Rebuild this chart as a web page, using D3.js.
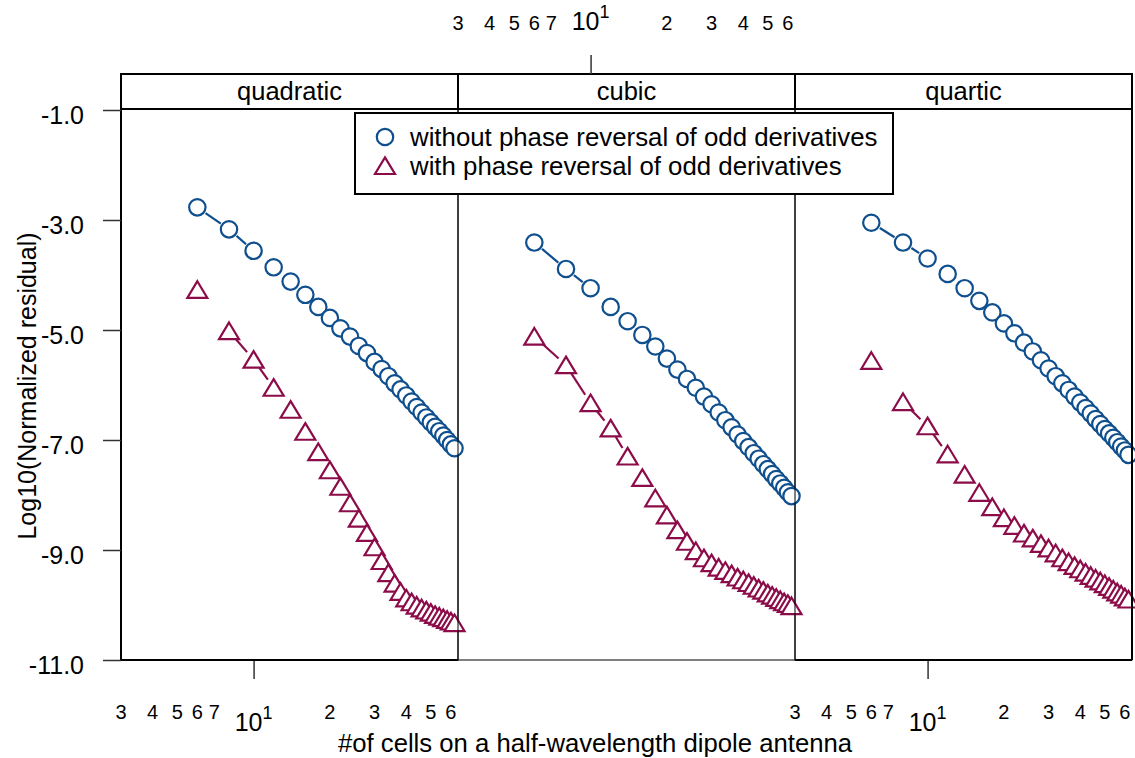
<!DOCTYPE html>
<html>
<head>
<meta charset="utf-8">
<script src="https://cdn.jsdelivr.net/npm/d3@7"></script>
<style>
  body { margin: 0; background: #fff; }
  text { font-family: "Liberation Sans", Arial, sans-serif; fill: #000; }
</style>
</head>
<body>
<svg width="1135" height="758"></svg>
<script>
// number of cells (x values shared by every panel)
const cells = [6, 8, 10, 12, 14, 16, 18, 20, 22, 24, 26, 28, 30, 32, 34, 36, 38, 40, 42, 44, 46, 48, 50, 52, 54, 56, 58, 60, 62];

const panelNames = ["quadratic", "cubic", "quartic"];

// log10 of normalized residual, without phase reversal
const quadraticWithout = [-2.77, -3.17, -3.56, -3.86, -4.12, -4.36, -4.58, -4.78, -4.97, -5.12, -5.29, -5.42, -5.58, -5.71, -5.84, -5.97, -6.08, -6.19, -6.30, -6.40, -6.50, -6.59, -6.68, -6.76, -6.84, -6.92, -7.00, -7.08, -7.15];
const cubicWithout = [-3.41, -3.89, -4.24, -4.58, -4.84, -5.09, -5.30, -5.52, -5.72, -5.89, -6.05, -6.21, -6.35, -6.50, -6.64, -6.77, -6.90, -7.02, -7.13, -7.24, -7.34, -7.44, -7.53, -7.62, -7.71, -7.79, -7.87, -7.95, -8.02];
const quarticWithout = [-3.05, -3.41, -3.70, -3.98, -4.24, -4.47, -4.68, -4.88, -5.06, -5.23, -5.39, -5.55, -5.70, -5.84, -5.97, -6.09, -6.21, -6.32, -6.42, -6.52, -6.62, -6.71, -6.80, -6.88, -6.96, -7.04, -7.12, -7.19, -7.27];

// with phase reversal of odd derivatives
const quadraticWith = [-4.27, -5.02, -5.54, -6.05, -6.45, -6.85, -7.22, -7.55, -7.85, -8.15, -8.43, -8.69, -8.95, -9.20, -9.42, -9.61, -9.76, -9.88, -9.95, -10.01, -10.06, -10.10, -10.14, -10.18, -10.21, -10.24, -10.27, -10.30, -10.33];
const cubicWith = [-5.12, -5.64, -6.33, -6.79, -7.30, -7.69, -8.06, -8.37, -8.64, -8.85, -9.02, -9.15, -9.24, -9.32, -9.38, -9.44, -9.50, -9.55, -9.60, -9.65, -9.70, -9.74, -9.79, -9.83, -9.87, -9.91, -9.95, -9.98, -10.02];
const quarticWith = [-5.56, -6.31, -6.75, -7.26, -7.63, -7.96, -8.22, -8.42, -8.56, -8.70, -8.79, -8.89, -8.97, -9.06, -9.15, -9.22, -9.29, -9.35, -9.41, -9.47, -9.52, -9.57, -9.62, -9.67, -9.72, -9.77, -9.81, -9.86, -9.90];

const withoutSeries = [quadraticWithout, cubicWithout, quarticWithout];
const withSeries = [quadraticWith, cubicWith, quarticWith];

const yTicks = [-1, -3, -5, -7, -9, -11];
const minorTicks = [3, 4, 5, 6, 7, 20, 30, 40, 50, 60];
const minorLabels = ["3", "4", "5", "6", "7", "2", "3", "4", "5", "6"];
const legendLabels = ["without phase reversal of odd derivatives", "with phase reversal of odd derivatives"];

const blue = "#0f4f8e";
const red = "#8b0c49";

const svg = d3.select("svg");

const left = 121;
const panelWidth = 337;
const panelTop = 109;
const panelBottom = 660;
const stripTop = 74;

const yScale = d3.scaleLinear().domain([-11, -1]).range([660, 110]);

const circleR = 8.2;
const trianglePath = "M0,-8.6L10,8L-10,8Z";
const gap = 10;

const drawSeries = (g, xScale, values, color, shape) => {
  const pts = cells.map((c, i) => [xScale(c), yScale(values[i])]);
  // broken "b"-style line: only the mid-length gaps between marks show a dash
  const segs = d3.pairs(pts).filter(([a, b]) => {
    const d = Math.hypot(b[0] - a[0], b[1] - a[1]);
    return d > 28 && d < 48;
  });
  const trim = ([a, b], t) => {
    const d = Math.hypot(b[0] - a[0], b[1] - a[1]);
    return [a[0] + (b[0] - a[0]) * t / d, a[1] + (b[1] - a[1]) * t / d];
  };
  g.append("g")
    .selectAll("line")
    .data(segs)
    .join("line")
    .attr("x1", (s) => trim(s, gap)[0])
    .attr("y1", (s) => trim(s, gap)[1])
    .attr("x2", (s) => trim([s[1], s[0]], gap)[0])
    .attr("y2", (s) => trim([s[1], s[0]], gap)[1])
    .attr("stroke", color)
    .attr("stroke-width", 2.2);

  const marks = g.append("g");
  pts.forEach((p) => {
    if (shape === "circle") {
      marks.append("circle")
        .attr("cx", p[0]).attr("cy", p[1]).attr("r", circleR)
        .attr("fill", "#fff").attr("stroke", color).attr("stroke-width", 2.2);
    } else {
      marks.append("path")
        .attr("d", trianglePath)
        .attr("transform", `translate(${p[0]},${p[1]})`)
        .attr("fill", "#fff").attr("stroke", color).attr("stroke-width", 2.2);
    }
  });
};

// log axis labels: minor digits plus 10^1
const drawXLabels = (g, xScale, side) => {
  const base = side === "bottom" ? 719 : 30;
  g.selectAll(null)
    .data(minorTicks)
    .join("text")
    .attr("x", (d) => xScale(d))
    .attr("y", base)
    .attr("text-anchor", "middle")
    .attr("font-size", 20)
    .text((d, i) => minorLabels[i]);

  const major = g.append("text")
    .attr("x", xScale(10))
    .attr("y", side === "bottom" ? 731 : 30)
    .attr("text-anchor", "middle")
    .attr("font-size", 25);
  major.append("tspan").text("10");
  major.append("tspan").attr("font-size", 18).attr("dy", -12).text("1");

  const tick = d3.axisBottom(xScale).tickValues([10]).tickSize(19).tickFormat("");
  const tg = g.append("g")
    .attr("transform", side === "bottom" ? `translate(0,${panelBottom})` : `translate(0,${stripTop}) scale(1,-1)`)
    .call(tick);
  tg.select(".domain").remove();
  tg.selectAll("line").attr("stroke", "#333").attr("stroke-width", 1.5);
};

panelNames.forEach((name, i) => {
  const x0 = left + i * panelWidth;
  const xScale = d3.scaleLog().domain([3, 64]).range([x0, x0 + panelWidth]);
  const g = svg.append("g");

  g.append("rect")
    .attr("x", x0).attr("y", panelTop)
    .attr("width", panelWidth).attr("height", panelBottom - panelTop)
    .attr("fill", "none").attr("stroke", "#000").attr("stroke-width", 1);

  drawSeries(g, xScale, withoutSeries[i], blue, "circle");
  drawSeries(g, xScale, withSeries[i], red, "triangle");

  // strip
  g.append("rect")
    .attr("x", x0).attr("y", stripTop)
    .attr("width", panelWidth).attr("height", panelTop - stripTop)
    .attr("fill", "#fff").attr("stroke", "#000").attr("stroke-width", 2);
  g.append("text")
    .attr("x", x0 + panelWidth / 2).attr("y", 100)
    .attr("text-anchor", "middle")
    .attr("font-size", 25.5)
    .text(name);

  drawXLabels(g, xScale, i === 1 ? "top" : "bottom");

  if (i !== 1) {
    g.append("line")
      .attr("x1", x0).attr("x2", x0 + panelWidth)
      .attr("y1", panelBottom).attr("y2", panelBottom)
      .attr("stroke", "#000").attr("stroke-width", 2);
  }
});

// outer thick edges
svg.append("line")
  .attr("x1", left).attr("x2", left).attr("y1", panelTop).attr("y2", panelBottom)
  .attr("stroke", "#000").attr("stroke-width", 2);
svg.append("line")
  .attr("x1", left + 3 * panelWidth).attr("x2", left + 3 * panelWidth).attr("y1", panelTop).attr("y2", panelBottom)
  .attr("stroke", "#000").attr("stroke-width", 2);

// y axis
const yAxisG = svg.append("g")
  .attr("transform", `translate(${left},0)`)
  .call(d3.axisLeft(yScale).tickValues(yTicks).tickSize(18).tickPadding(19).tickFormat((d) => d.toFixed(1)));
yAxisG.select(".domain").remove();
yAxisG.selectAll("line").attr("stroke", "#333").attr("stroke-width", 1.5);
yAxisG.selectAll("text")
  .attr("font-size", 25)
  .attr("font-family", "'Liberation Sans', Arial, sans-serif")
  .attr("fill", "#000")
  .attr("dy", "0.55em");

// axis titles
svg.append("text")
  .attr("x", 595).attr("y", 752)
  .attr("text-anchor", "middle")
  .attr("font-size", 25.7)
  .text("#of cells on a half-wavelength dipole antenna");

svg.append("text")
  .attr("transform", "translate(36,386) rotate(-90)")
  .attr("text-anchor", "middle")
  .attr("font-size", 25)
  .text("Log10(Normalized residual)");

// legend
const legend = svg.append("g");
legend.append("rect")
  .attr("x", 355).attr("y", 113).attr("width", 538).attr("height", 81)
  .attr("fill", "#fff").attr("stroke", "#000").attr("stroke-width", 2);
legend.append("circle")
  .attr("cx", 385).attr("cy", 137).attr("r", circleR)
  .attr("fill", "#fff").attr("stroke", blue).attr("stroke-width", 2.2);
legend.append("path")
  .attr("d", trianglePath)
  .attr("transform", "translate(385,166)")
  .attr("fill", "#fff").attr("stroke", red).attr("stroke-width", 2.2);
legend.selectAll(null)
  .data(legendLabels)
  .join("text")
  .attr("x", 410)
  .attr("y", (d, i) => 146 + i * 29)
  .attr("font-size", 25.8)
  .text((d) => d);
</script>
</body>
</html>
